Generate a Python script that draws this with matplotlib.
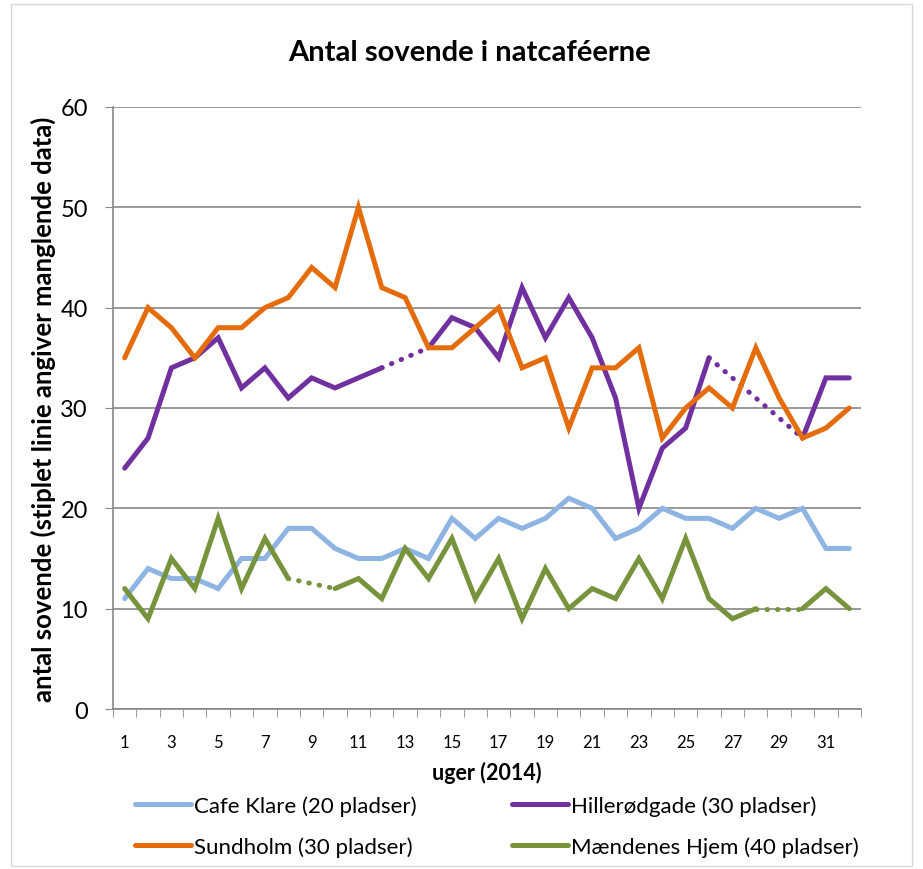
import numpy as np
import matplotlib
matplotlib.use("Agg")
import matplotlib.pyplot as plt
from matplotlib.patches import Rectangle

plt.rcParams['font.family'] = ['Lato', 'DejaVu Sans']

weeks = list(range(1, 33))

# None = manglende data (tegnes stiplet)
cafe_klare = [11, 14, 13, 13, 12, 15, 15, 18, 18, 16, 15, 15, 16, 15, 19, 17,
              19, 18, 19, 21, 20, 17, 18, 20, 19, 19, 18, 20, 19, 20, 16, 16]
hilleroedgade = [24, 27, 34, 35, 37, 32, 34, 31, 33, 32, 33, 34, None, 36, 39, 38,
                 35, 42, 37, 41, 37, 31, 20, 26, 28, 35, None, None, None, 27, 33, 33]
sundholm = [35, 40, 38, 35, 38, 38, 40, 41, 44, 42, 50, 42, 41, 36, 36, 38,
            40, 34, 35, 28, 34, 34, 36, 27, 30, 32, 30, 36, 31, 27, 28, 30]
maendenes_hjem = [12, 9, 15, 12, 19, 12, 17, 13, None, 12, 13, 11, 16, 13, 17, 11,
                  15, 9, 14, 10, 12, 11, 15, 11, 17, 11, 9, 10, None, 10, 12, 10]

series = [
    ("Cafe Klare (20 pladser)", cafe_klare, "#8DB4E2"),
    ("Hillerødgade (30 pladser)", hilleroedgade, "#7030A0"),
    ("Sundholm (30 pladser)", sundholm, "#E46C0A"),
    ("Mændenes Hjem (40 pladser)", maendenes_hjem, "#77933C"),
]

fig = plt.figure(figsize=(9.23, 8.7), dpi=100)
fig.patches.append(Rectangle((0.012, 0.004), 0.976, 0.99, transform=fig.transFigure,
                             fill=False, edgecolor="#D9D9D9", linewidth=1))
ax = fig.add_axes([0.1224, 0.1839, 0.8104, 0.692])

lw = 3.6
handles = {}
for name, vals, col in series:
    x = np.array(weeks, dtype=float)
    y = np.array([np.nan if v is None else v for v in vals], dtype=float)
    ok = ~np.isnan(y)
    # stiplet linje mellem kendte punkter over huller
    xv, yv = x[ok], y[ok]
    for i in range(len(xv) - 1):
        if xv[i + 1] - xv[i] > 1:
            ax.plot([xv[i], xv[i + 1]], [yv[i], yv[i + 1]], color=col, lw=lw,
                    linestyle=(0, (0.1, 2.0)), dash_capstyle='round', zorder=3)
    h, = ax.plot(x, y, color=col, lw=lw, solid_capstyle='round',
                 solid_joinstyle='miter', zorder=3)
    handles[name] = h

ax.set_xlim(0.5, 32.5)
ax.set_ylim(0, 60)
ax.set_yticks(range(0, 61, 10))
ax.set_xticks(weeks[::2])
ax.set_xticks(np.arange(0.5, 33, 1), minor=True)
ax.tick_params(axis='x', which='major', length=0, labelsize=12, pad=18)
ax.tick_params(axis='x', which='minor', length=6, color="#888888", direction='out')
ax.tick_params(axis='y', length=6, color="#888888", labelsize=17, pad=12)
ax.grid(axis='y', color="#888888", lw=1.2, zorder=0)
for s in ['top', 'right']:
    ax.spines[s].set_visible(False)
for s in ['left', 'bottom']:
    ax.spines[s].set_color("#888888")
    ax.spines[s].set_linewidth(1.2)

ax.set_title("Antal sovende i natcaféerne", fontsize=21, fontweight='bold', pad=34,
             x=0.477)
ax.set_xlabel("uger (2014)", fontsize=15.5, fontweight='bold', labelpad=8)
ax.set_ylabel("antal sovende (stiplet linie angiver manglende data)", fontsize=18.5,
              fontweight='bold', labelpad=3)

order = ["Cafe Klare (20 pladser)", "Sundholm (30 pladser)",
         "Hillerødgade (30 pladser)", "Mændenes Hjem (40 pladser)"]
fig.legend([handles[n] for n in order], order, loc='lower left',
           bbox_to_anchor=(0.1246, -0.009), ncol=2, frameon=False, fontsize=16,
           handlelength=2.5, handletextpad=0.15, columnspacing=4.3, labelspacing=0.9)

fig.savefig("out.png", dpi=100)
